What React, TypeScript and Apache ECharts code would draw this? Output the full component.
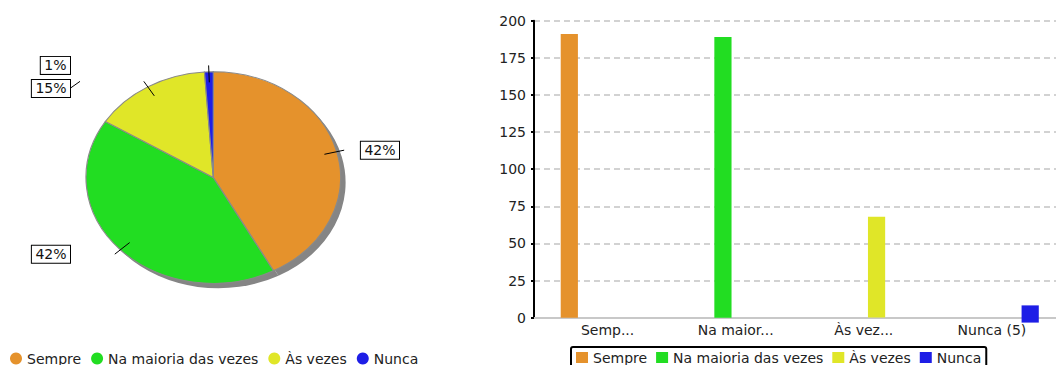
import React, { useEffect, useRef } from 'react';
import * as echarts from 'echarts';

// ---- data ----
const categories = ['Sempre', 'Na maioria das vezes', 'Às vezes', 'Nunca'];
const counts = [191, 189, 68, 5];
const barAxisLabels = ['Semp...', 'Na maior...', 'Às vez...', 'Nunca (5)'];
const yAxisMin = 0;
const yAxisMax = 200;
const yAxisInterval = 25;

// ---- styles ----
const colors = ['#E5922C', '#22DD22', '#E0E628', '#1E1EE6'];
const FONT = '"DejaVu Sans", Verdana, sans-serif';

// pie geometry (ellipse)
const CX = 213.3;
const CY = 177.5;
const RX = 127.3;
const RY = 105.8;
const SHADOW = 5;
const LEFT_LABEL_EDGE = 70;
const RIGHT_LABEL_EDGE = 399;
const LABEL_SPACING = 23;

type Slice = {
  a0: number; a1: number; pct: string;
  x1: number; y1: number; x2: number; y2: number;
  right: boolean; labelY: number;
};

function pieLayout(): Slice[] {
  const total = counts.reduce((a, b) => a + b, 0);
  let acc = 0;
  const slices: Slice[] = counts.map((v) => {
    const a0 = (acc / total) * Math.PI * 2;
    acc += v;
    const a1 = (acc / total) * Math.PI * 2;
    const mid = (a0 + a1) / 2;
    const dx = Math.sin(mid);
    const dy = -Math.cos(mid);
    const x1 = CX + RX * 0.9 * dx;
    const y1 = CY + RY * 0.9 * dy;
    const x2 = CX + RX * 1.06 * dx;
    const y2 = CY + RY * 1.06 * dy;
    return {
      a0, a1,
      pct: Math.round((v / total) * 100) + '%',
      x1, y1, x2, y2,
      right: dx >= 0,
      labelY: y2,
    };
  });
  [true, false].forEach((side) => {
    const arr = slices.filter((s) => s.right === side).sort((a, b) => a.labelY - b.labelY);
    for (let k = 1; k < arr.length; k++) {
      if (arr[k].labelY < arr[k - 1].labelY + LABEL_SPACING) {
        arr[k].labelY = arr[k - 1].labelY + LABEL_SPACING;
      }
    }
  });
  return slices;
}

export default function App() {
  const ref = useRef<HTMLDivElement>(null);

  useEffect(() => {
    if (!ref.current) return;
    const chart = echarts.init(ref.current, null, { renderer: 'svg' });
    const slices = pieLayout();

    const renderSlice = (params: any, api: any) => {
      const i = params.dataIndex;
      const s = slices[i];
      const color = api.visual('color');
      const sectorShape = {
        cx: 0, cy: 0, r: RX, r0: 0,
        startAngle: -Math.PI / 2 + s.a0,
        endAngle: -Math.PI / 2 + s.a1,
        clockwise: true,
      };
      const labelX = s.right ? RIGHT_LABEL_EDGE : LEFT_LABEL_EDGE;
      const children: any[] = [
        {
          type: 'sector', x: CX + SHADOW, y: CY + SHADOW, scaleY: RY / RX,
          shape: sectorShape, style: { fill: '#858585' }, z2: 0,
        },
        {
          type: 'sector', x: CX, y: CY, scaleY: RY / RX,
          shape: sectorShape,
          style: { fill: color, stroke: '#8a8a8a', lineWidth: 1.2, strokeNoScale: true },
          z2: 10,
        },
        {
          type: 'line',
          shape: { x1: s.x1, y1: s.y1, x2: s.x2, y2: s.y2 },
          style: { stroke: '#000', lineWidth: 1 },
          z2: 20,
        },
        {
          type: 'text', x: labelX, y: s.labelY,
          style: {
            text: s.pct, font: '14px ' + FONT, fill: '#111',
            align: 'right', verticalAlign: 'middle',
            backgroundColor: '#fff', borderColor: '#000', borderWidth: 1,
            padding: [2, 3.5, 1, 3.5],
          },
          z2: 30,
        },
      ];
      if (Math.abs(s.labelY - s.y2) > 0.5) {
        const ex = s.right ? labelX - 40 : labelX;
        const dir = s.right ? -1 : 1;
        children.push({
          type: 'line',
          shape: { x1: ex, y1: s.labelY, x2: ex + dir * 10, y2: s.y2 },
          style: { stroke: '#000', lineWidth: 1 },
          z2: 20,
        });
      }
      return { type: 'group', children };
    };

    const textStyle = { fontSize: 14, color: '#222', fontFamily: FONT, lineHeight: 16 };

    const option: any = {
      animation: false,
      backgroundColor: '#fff',
      legend: [
        {
          data: categories,
          left: 10, top: 350.5, padding: 0,
          icon: 'circle', itemWidth: 12, itemHeight: 12, itemGap: 10,
          itemStyle: { borderWidth: 0 },
          selectedMode: false, textStyle,
        },
        {
          data: categories,
          left: 571, top: 347, padding: [2.5, 5],
          icon: 'rect', itemWidth: 12, itemHeight: 11, itemGap: 9,
          itemStyle: { borderWidth: 0 },
          borderColor: '#000', borderWidth: 2, borderRadius: 2,
          selectedMode: false, textStyle,
        },
      ],
      grid: [
        { left: 534, right: 0, top: 20.7, bottom: 47.3 },
        { left: 543.5, right: -1.5, top: 20.7, bottom: 47.3 },
      ],
      xAxis: [
        {
          gridIndex: 0, type: 'category', data: barAxisLabels,
          axisLine: { show: true, lineStyle: { color: '#c8c8c8', width: 2 } },
          axisTick: { show: false }, axisLabel: { show: false }, splitLine: { show: false },
        },
        {
          gridIndex: 1, type: 'category', data: barAxisLabels,
          axisLine: { show: false }, axisTick: { show: false }, splitLine: { show: false },
          axisLabel: { margin: 5, fontSize: 14, color: '#222', fontFamily: FONT, interval: 0 },
        },
      ],
      yAxis: [
        {
          gridIndex: 0, type: 'value', min: yAxisMin, max: yAxisMax, interval: yAxisInterval,
          axisLine: { show: true, lineStyle: { color: '#000', width: 2 } },
          axisTick: { show: true, length: 3, lineStyle: { color: '#000', width: 2 } },
          axisLabel: { margin: 8, fontSize: 14, color: '#222', fontFamily: FONT },
          splitLine: { show: true, lineStyle: { color: '#c4c4c4', width: 1.5, type: [6, 4] } },
        },
        {
          gridIndex: 1, type: 'value', min: yAxisMin, max: yAxisMax, interval: yAxisInterval,
          show: false, splitLine: { show: false },
        },
      ],
      series: [
        {
          type: 'custom',
          name: 'Distribuição',
          coordinateSystem: 'none',
          silent: true,
          renderItem: renderSlice,
          data: counts.map((v, i) => ({ name: categories[i], value: v, itemStyle: { color: colors[i] } })),
        },
        ...categories.map((name, i) => ({
          type: 'pictorialBar',
          name,
          xAxisIndex: 1,
          yAxisIndex: 1,
          silent: true,
          barWidth: 17,
          barGap: '50%',
          symbol: 'rect',
          symbolRepeat: false,
          symbolClip: false,
          symbolSize: i === categories.length - 1 ? [17, 17] : ['100%', '100%'],
          symbolPosition: i === categories.length - 1 ? 'center' : 'start',
          itemStyle: i === categories.length - 1
            ? { color: colors[i], borderColor: '#8c8cf2', borderWidth: 1 }
            : { color: colors[i] },
          data: categories.map((_, j) => (j === i ? counts[i] : null)),
        })),
      ],
    };

    chart.setOption(option);
    return () => chart.dispose();
  }, []);

  return (
    <div
      ref={ref}
      style={{ position: 'absolute', left: 0, top: 0, width: 1056, height: 365 }}
    />
  );
}
